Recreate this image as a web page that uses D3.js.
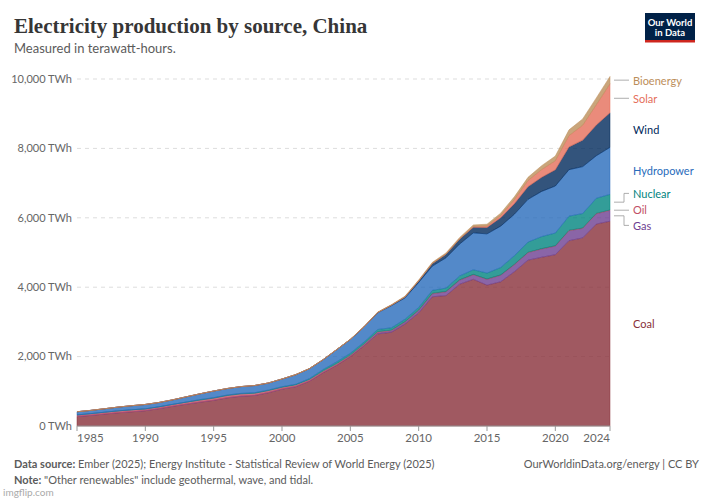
<!DOCTYPE html>
<html>
<head>
<meta charset="utf-8">
<script src="https://cdn.jsdelivr.net/npm/d3@7"></script>
<style>
  body { margin: 0; background: #fff; }
  svg { display: block; font-family: Lato, "Noto Sans", sans-serif; }
</style>
</head>
<body>
<svg id="chart" width="708" height="500"></svg>
<script>
// Values (TWh), 1985 to 2024
const years = [1985, 1986, 1987, 1988, 1989, 1990, 1991, 1992, 1993, 1994,
  1995, 1996, 1997, 1998, 1999, 2000, 2001, 2002, 2003, 2004,
  2005, 2006, 2007, 2008, 2009, 2010, 2011, 2012, 2013, 2014,
  2015, 2016, 2017, 2018, 2019, 2020, 2021, 2022, 2023, 2024];

const coal = [271, 305, 344, 381, 410, 441, 500, 568, 629, 686,
  739, 812, 858, 880, 960, 1062, 1134, 1289, 1534, 1749,
  2001, 2313, 2654, 2700, 2939, 3258, 3725, 3758, 4087, 4227,
  4060, 4156, 4446, 4780, 4864, 4937, 5341, 5421, 5820, 5902];
const gas = [3, 3, 3, 3, 3, 3, 3, 3, 4, 4,
  5, 5, 5, 5, 5, 6, 6, 7, 8, 10,
  12, 22, 40, 42, 51, 69, 86, 110, 117, 133,
  167, 188, 203, 215, 236, 247, 287, 273, 296, 311];
const oil = [45, 48, 50, 52, 54, 50, 50, 52, 55, 57,
  60, 62, 63, 60, 55, 47, 45, 43, 40, 38,
  30, 28, 25, 20, 17, 14, 12, 10, 9, 9,
  9, 10, 10, 10, 11, 11, 11, 11, 12, 12];
const nuclear = [0, 0, 0, 0, 0, 0, 0, 0, 2, 14,
  13, 14, 14, 14, 15, 17, 17, 25, 43, 50,
  53, 55, 62, 68, 70, 74, 86, 97, 112, 133,
  171, 213, 248, 295, 348, 366, 408, 418, 435, 451];
const hydro = [92, 94, 100, 109, 118, 127, 125, 131, 152, 167,
  191, 188, 196, 208, 204, 222, 277, 288, 284, 354,
  397, 436, 485, 637, 616, 722, 699, 872, 920, 1064,
  1130, 1193, 1195, 1232, 1302, 1355, 1340, 1352, 1226, 1354];
const wind = [0, 0, 0, 0, 0, 0, 0, 0, 0, 0,
  0, 0, 0, 0, 0, 0, 0, 0, 0, 0,
  2, 4, 6, 15, 28, 45, 74, 103, 141, 160,
  186, 241, 303, 366, 406, 467, 656, 763, 886, 997];
const solar = [0, 0, 0, 0, 0, 0, 0, 0, 0, 0,
  0, 0, 0, 0, 0, 0, 0, 0, 0, 0,
  0, 0, 0, 0, 0, 1, 3, 4, 8, 24,
  39, 67, 118, 177, 224, 261, 327, 428, 584, 834];
const bioenergy = [0, 0, 0, 0, 0, 0, 0, 0, 0, 0,
  0, 0, 0, 0, 0, 2, 2, 2, 2, 3,
  5, 8, 10, 14, 21, 25, 31, 34, 38, 45,
  53, 65, 81, 91, 112, 135, 164, 183, 197, 212];

// stacking order, bottom to top
const sources = ["Coal", "Gas", "Oil", "Nuclear", "Hydropower", "Wind", "Solar", "Bioenergy"];
const seriesValues = [coal, gas, oil, nuclear, hydro, wind, solar, bioenergy];
const sourceColors = ["#883039", "#6D3E91", "#C15065", "#00847E", "#286BBB", "#00295B", "#E56E5A", "#BC8E5A"];
const connected = ["Bioenergy", "Solar", "Nuclear", "Oil", "Gas"]; // labels drawn with a leader line

const yTicks = [0, 2000, 4000, 6000, 8000, 10000];
const xTicks = [1985, 1990, 1995, 2000, 2005, 2010, 2015, 2020, 2024];

// table for d3.stack
const table = years.map((yr, i) => {
  const row = { year: yr };
  sources.forEach((s, j) => { row[s] = seriesValues[j][i]; });
  return row;
});

const svg = d3.select("#chart");

const x = d3.scaleLinear().domain([1985, 2024]).range([77, 610]);
const y = d3.scaleLinear().domain([0, 10000]).range([426, 79]);
const color = d3.scaleOrdinal().domain(sources).range(sourceColors);

// Title + subtitle
svg.append("text")
  .attr("x", 14).attr("y", 33)
  .style("font-family", "'Liberation Serif', 'DejaVu Serif', serif")
  .style("font-weight", "bold")
  .style("font-size", "21px")
  .attr("fill", "#363636")
  .text("Electricity production by source, China");

svg.append("text")
  .attr("x", 14).attr("y", 53)
  .style("font-size", "13px")
  .attr("fill", "#5b5b5b")
  .text("Measured in terawatt-hours.");

// OWID logo
const logo = svg.append("g").attr("transform", "translate(645,13)");
logo.append("rect").attr("width", 50).attr("height", 29).attr("fill", "#002147");
logo.append("rect").attr("y", 27).attr("width", 50).attr("height", 2.5).attr("fill", "#CE261E");
logo.append("text").attr("x", 25).attr("y", 12.5).attr("text-anchor", "middle")
  .style("font-size", "9.5px").style("font-weight", "bold").attr("fill", "#fff").text("Our World");
logo.append("text").attr("x", 25).attr("y", 22.5).attr("text-anchor", "middle")
  .style("font-size", "9.5px").style("font-weight", "bold").attr("fill", "#fff").text("in Data");

// Gridlines + y labels
svg.append("g").selectAll("line")
  .data(yTicks.filter(d => d > 0))
  .join("line")
  .attr("x1", 77).attr("x2", 610)
  .attr("y1", d => y(d)).attr("y2", d => y(d))
  .attr("stroke", "#ddd")
  .attr("stroke-dasharray", "4,4");

svg.append("g").selectAll("text")
  .data(yTicks)
  .join("text")
  .attr("x", 72)
  .attr("y", d => y(d))
  .attr("dy", "0.35em")
  .attr("text-anchor", "end")
  .style("font-size", "11px")
  .attr("fill", "#666")
  .text(d => d3.format(",")(d) + " TWh");

// Stacked areas
const stacked = d3.stack().keys(sources)(table);

const area = d3.area()
  .x(d => x(d.data.year))
  .y0(d => y(d[0]))
  .y1(d => y(d[1]));

svg.append("g").selectAll("path")
  .data(stacked)
  .join("path")
  .attr("d", area)
  .attr("fill", d => color(d.key))
  .attr("fill-opacity", 0.8)
  .attr("stroke", d => color(d.key))
  .attr("stroke-width", 0.5);

// X axis
svg.append("line")
  .attr("x1", 77).attr("x2", 610)
  .attr("y1", 426).attr("y2", 426)
  .attr("stroke", "#999");

svg.append("g").selectAll("line")
  .data(xTicks)
  .join("line")
  .attr("x1", d => x(d)).attr("x2", d => x(d))
  .attr("y1", 426).attr("y2", 431)
  .attr("stroke", "#999");

svg.append("g").selectAll("text")
  .data(xTicks)
  .join("text")
  .attr("x", d => x(d))
  .attr("y", 442)
  .attr("text-anchor", (d, i) => i === 0 ? "start" : i === xTicks.length - 1 ? "end" : "middle")
  .style("font-size", "11.5px")
  .attr("fill", "#666")
  .text(d => d);

// Legend labels at the right end, spread apart where they crowd
const last = stacked.map(s => {
  const v = s[s.length - 1];
  return { key: s.key, target: y((v[0] + v[1]) / 2) };
}).sort((a, b) => a.target - b.target);

const gap = 16;
let groups = last.map(d => ({ items: [d], center: d.target }));
let merged = true;
while (merged) {
  merged = false;
  for (let i = 0; i < groups.length - 1; i++) {
    const a = groups[i], b = groups[i + 1];
    const aBottom = a.center + (a.items.length - 1) * gap / 2;
    const bTop = b.center - (b.items.length - 1) * gap / 2;
    if (bTop - aBottom < gap) {
      const items = a.items.concat(b.items);
      groups.splice(i, 2, { items, center: d3.mean(items, d => d.target) });
      merged = true;
      break;
    }
  }
}
groups.forEach(g => {
  g.items.forEach((d, k) => { d.labelY = g.center + (k - (g.items.length - 1) / 2) * gap; });
});

const legend = svg.append("g");
legend.selectAll("path")
  .data(last.filter(d => connected.includes(d.key)))
  .join("path")
  .attr("d", d => Math.abs(d.labelY - d.target) < 1
    ? `M614,${d.target}H629`
    : `M614,${d.target}H624V${d.labelY}H629`)
  .attr("fill", "none")
  .attr("stroke", "#999")
  .attr("stroke-width", 0.8);

legend.selectAll("text")
  .data(last)
  .join("text")
  .attr("x", 633)
  .attr("y", d => d.labelY)
  .attr("dy", "0.4em")
  .style("font-size", "11px")
  .attr("fill", d => color(d.key))
  .text(d => d.key);

// Footer
const src = svg.append("text").attr("x", 14).attr("y", 468)
  .style("font-size", "11px").attr("fill", "#5b5b5b");
src.append("tspan").style("font-weight", "bold").text("Data source:");
src.append("tspan").text(" Ember (2025); Energy Institute - Statistical Review of World Energy (2025)");

svg.append("text").attr("x", 699).attr("y", 468)
  .attr("text-anchor", "end")
  .style("font-size", "11px").attr("fill", "#5b5b5b")
  .text("OurWorldinData.org/energy | CC BY");

const note = svg.append("text").attr("x", 14).attr("y", 484)
  .style("font-size", "11px").attr("fill", "#5b5b5b");
note.append("tspan").style("font-weight", "bold").text("Note:");
note.append("tspan").text(" \"Other renewables\" include geothermal, wave, and tidal.");

svg.append("text").attr("x", 3).attr("y", 496)
  .style("font-size", "10px").attr("fill", "#aaa")
  .text("imgflip.com");
</script>
</body>
</html>
